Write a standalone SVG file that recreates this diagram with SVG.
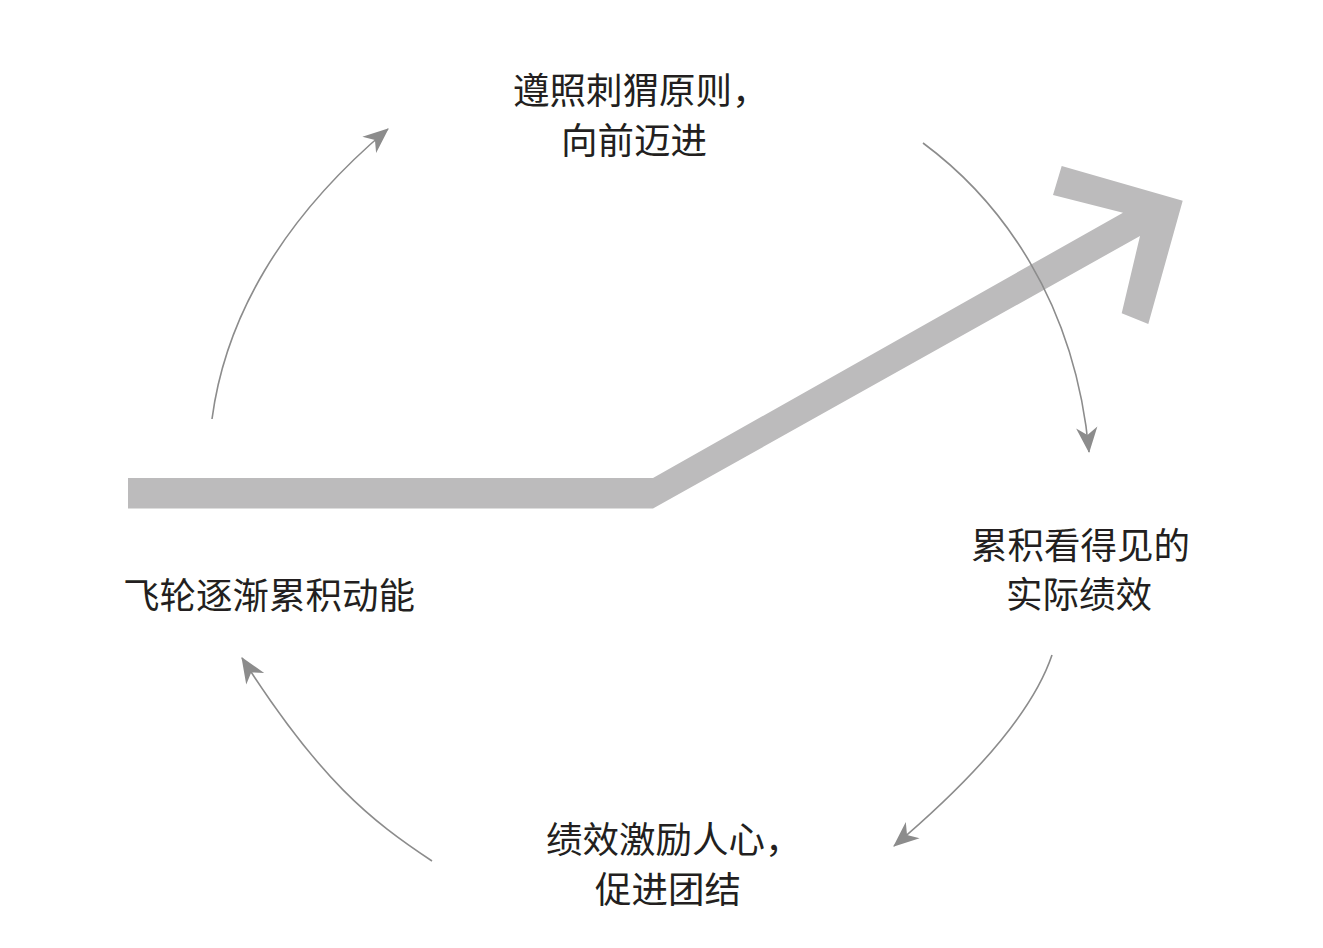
<svg xmlns="http://www.w3.org/2000/svg" width="1323" height="948" viewBox="0 0 1323 948">
  <style>
    .lbl { font-family: "Noto Sans CJK SC", "Noto Sans", sans-serif; font-size: 36.5px; fill: #231f20; }
    .conn { fill: none; stroke: #8c8c8c; stroke-width: 1.6; }
  </style>
  <defs>
    <marker id="ah" markerUnits="userSpaceOnUse" markerWidth="32" markerHeight="32" viewBox="-26 -13 30 26" refX="0" refY="0" orient="auto">
      <path d="M1,0 L-23,-10 L-16,0 L-23,10 Z" fill="#8c8c8c"/>
    </marker>
  </defs>
  <rect width="1323" height="948" fill="#ffffff"/>

  <g id="growth-arrow">
    <polygon fill="#bcbbbc" points="128,478 653,478 1123,212.7 1053,195 1061.7,166 1182.7,200.7 1148.3,324 1121.7,313.3 1140,236 653,508.5 128,508.5"/>
  </g>

  <g id="connectors">
    <path class="conn" d="M212,419 C225,320 280,220 388,129" marker-end="url(#ah)"/>
    <path class="conn" d="M923,143 C1000,200 1075,300 1089,452" marker-end="url(#ah)"/>
    <path class="conn" d="M1052,655 C1030,720 960,790 894,846" marker-end="url(#ah)"/>
    <path class="conn" d="M432,861 C370,820 320,780 242,658" marker-end="url(#ah)"/>
  </g>

  <g id="node-top">
    <text class="lbl" x="513" y="104">遵照刺猬原则，</text>
    <text class="lbl" x="561" y="154">向前迈进</text>
  </g>
  <g id="node-right">
    <text class="lbl" x="971" y="559">累积看得见的</text>
    <text class="lbl" x="1006" y="608">实际绩效</text>
  </g>
  <g id="node-bottom">
    <text class="lbl" x="546" y="853">绩效激励人心，</text>
    <text class="lbl" x="595" y="903">促进团结</text>
  </g>
  <g id="node-left">
    <text class="lbl" x="123" y="609">飞轮逐渐累积动能</text>
  </g>
</svg>
